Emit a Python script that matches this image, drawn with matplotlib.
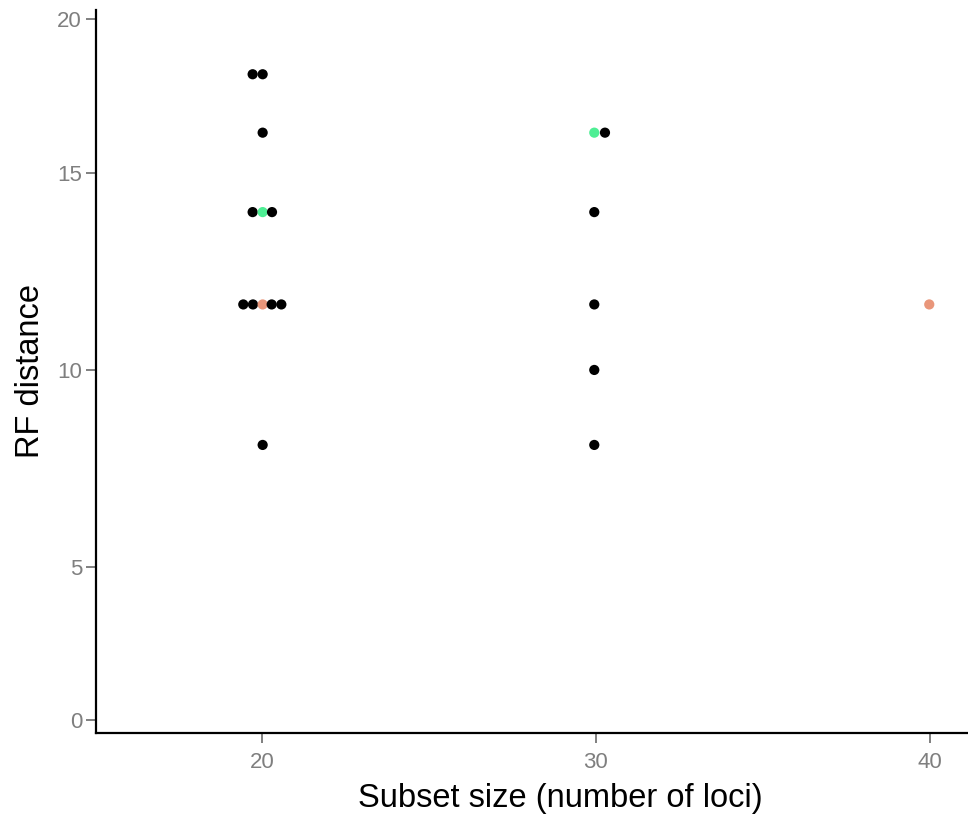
import numpy as np
import matplotlib
matplotlib.use('Agg')
import matplotlib.pyplot as plt

# ─── Datos ────────────────────────────────────────────────────────────────────
# posición x ya desplazada (beeswarm) alrededor del tamaño de subconjunto
subset_x = [19.72, 20.02,
            20.02,
            19.72, 20.02, 20.30,
            19.44, 19.73, 20.02, 20.29, 20.58,
            20.02,
            29.95, 30.27,
            29.95, 29.95, 29.95, 29.95,
            39.98]
rf_dist = [18.2, 18.2,
           16.3,
           14.0, 14.0, 14.0,
           11.66, 11.66, 11.66, 11.66, 11.66,
           8.1,
           16.3, 16.3,
           14.0, 11.66, 10.0, 8.1,
           11.66]
grupo = ['base', 'base',
         'base',
         'base', 'alt', 'base',
         'base', 'base', 'ref', 'base', 'base',
         'base',
         'alt', 'base',
         'base', 'base', 'base', 'base',
         'ref']

y_ticks = [0, 5, 10, 15, 20]
x_ticks = [20, 30, 40]

COLORES = {'base': '#000000', 'alt': '#4EEE94', 'ref': '#E9967A'}

# escala del eje y (no lineal, por tramos entre marcas)
ESC_VAL = np.array([-1, 0, 5, 10, 15, 20, 21], dtype=float)
ESC_POS = np.array([-30.54, 0, 152.7, 350, 547.3, 701, 731.74])


def fwd(v):
    return np.interp(v, ESC_VAL, ESC_POS)


def inv(p):
    return np.interp(p, ESC_POS, ESC_VAL)


fig = plt.figure(figsize=(9.68, 8.16), dpi=100)
ax = fig.add_axes([96 / 968, 83 / 816, 872 / 968, 723 / 816])

ax.set_yscale('function', functions=(fwd, inv))
ax.scatter(subset_x, rf_dist, s=54, c=[COLORES[g] for g in grupo],
           linewidths=0, zorder=3, clip_on=False)

ax.set_xlim(15.03, 41.14)
ax.set_ylim(-0.426, 20.29)
ax.set_xticks(x_ticks)
ax.set_yticks(y_ticks)
ax.set_xticklabels([str(t) for t in x_ticks])
ax.set_yticklabels([str(t) for t in y_ticks])
ax.minorticks_off()

for lado in ['top', 'right']:
    ax.spines[lado].set_visible(False)
for lado in ['left', 'bottom']:
    ax.spines[lado].set_linewidth(1.6)
    ax.spines[lado].set_color('black')

ax.tick_params(axis='both', length=7, width=1.4, color='#7F7F7F',
               labelsize=16, labelcolor='#7F7F7F',
               labelfontfamily='Liberation Sans')
ax.tick_params(axis='y', pad=3)
ax.tick_params(axis='x', pad=7)

ax.set_xlabel('Subset size (number of loci)', fontsize=23.5,
              family='Liberation Sans')
ax.set_ylabel('RF distance', fontsize=23.5,
              family='Liberation Sans', labelpad=8)
# el panel original sigue más allá del borde derecho: título centrado en x≈560 px
ax.xaxis.set_label_coords((560 - 96) / 872, -50 / 723)

fig.savefig('out.png', dpi=100, facecolor='white')
